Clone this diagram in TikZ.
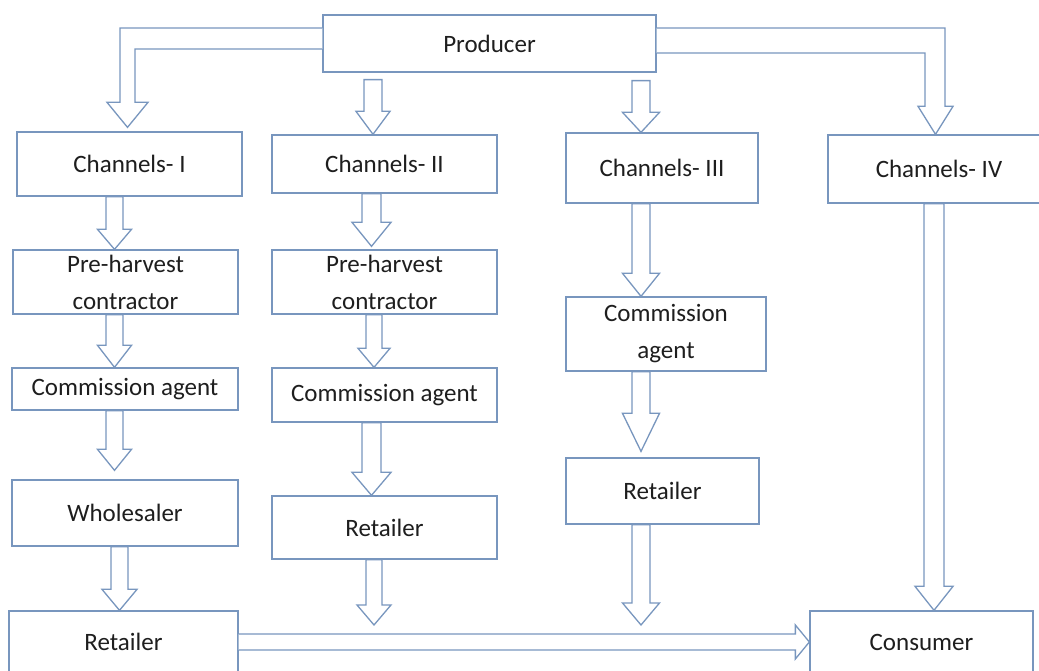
\documentclass[tikz,border=0pt]{standalone}
\usepackage{fontspec}
\setmainfont{Carlito}
\usetikzlibrary{calc}
\definecolor{boxBlue}{RGB}{120,150,190}
\definecolor{textDark}{RGB}{30,30,30}

\begin{document}
\begin{tikzpicture}
[x=1pt,y=1pt,%
  boxDecorate/.style={draw=boxBlue,line width=1.3pt,fill=white,inner sep=0pt,%
    align=center,text=textDark,font=\fontsize{25}{37}\selectfont},%
  hollowArrow/.style={draw=boxBlue,line width=1.3pt,line join=miter,fill=white}]
\useasboundingbox (0,0) rectangle (1039,671);
%% boxes
\foreach \nodename/\xpos/\ypos/\bw/\bh/\txt in {
  prod/489.5/627.5/333/57/Producer,
  chI/129.5/507/225/64/Channels- I, chII/384.5/507/225/58/Channels- II,
  chIII/662/503/192/70/Channels- III, chIV/939/502/222/68/Channels- IV,
  preI/125.5/389/225/64/Pre-harvest\\contractor,
  preII/384.5/389/225/64/Pre-harvest\\contractor,
  comI/125/282/226/42/Commission agent, comII/384.5/276/225/54/Commission agent,
  comIII/666/337/200/74/Commission\\agent,
  whole/125/158/226/66/Wholesaler, retII/384.5/143.5/225/63/Retailer,
  retIII/662.5/180/193/66/Retailer,
  retI/123.5/29/229/62/Retailer, cons/921.5/29/223/62/Consumer}
{
  \node (\nodename) at (\xpos,\ypos) [boxDecorate,minimum width=\bw,minimum height=\bh] {\txt};
}
\coordinate (endII) at (374,46);
\coordinate (endIII) at (641,46);
%% straight down arrows
\foreach \startnode/\endnode/\xpos/\sw/\hw/\hl/\sgap/\tgap in {
  chI.south/preI.north/114.5/8.5/17/20/0/0,
  preI.south/comI.north/114.5/8.5/17/22/0/0,
  comI.south/whole.north/114.5/8.5/17/21/0/9,
  whole.south/retI.north/119.5/8.5/17.5/21/0/0,
  prod.south/chII.north/373/9/17/23/7/0,
  chII.south/preII.north/371.5/9.5/19.5/24/0/3,
  preII.south/comII.north/374/8/16/19/0/0,
  comII.south/retII.north/371.5/9.5/19.5/23/0/0,
  retII.south/endII/374/8/17/20/0/0,
  prod.south/chIII.north/641/9/18.5/20/8/0,
  chIII.south/comIII.north/641/9/18.5/23/0/0,
  comIII.south/retIII.north/641/9/18.5/38/0/6,
  retIII.south/endIII/641/9/18.5/22/0/0,
  chIV.south/cons.north/934/10/19/24/0/0}
{
  \draw[hollowArrow] let \p1=(\startnode), \p2=(\endnode) in
    (\xpos-\sw,\y1-\sgap) -- (\xpos-\sw,\y2+\tgap+\hl) -- (\xpos-\hw,\y2+\tgap+\hl)
    -- (\xpos,\y2+\tgap) -- (\xpos+\hw,\y2+\tgap+\hl) -- (\xpos+\sw,\y2+\tgap+\hl)
    -- (\xpos+\sw,\y1-\sgap) -- cycle;
}
%% bent arrows from the producer
\draw[hollowArrow] let \p1=(prod.west), \p2=(chI.north) in
  (\x1,\y1+15.5) -- (120,\y1+15.5) -- (120,\y2+29) -- (107,\y2+29) -- (127.5,\y2+4)
  -- (148,\y2+29) -- (135,\y2+29) -- (135,\y1-5.5) -- (\x1,\y1-5.5);
\draw[hollowArrow] let \p1=(prod.east), \p2=(chIV.north) in
  (\x1,\y1+15.5) -- (945,\y1+15.5) -- (945,\y2+28) -- (953,\y2+28) -- (935.5,\y2)
  -- (918,\y2+28) -- (925,\y2+28) -- (925,\y1-9.5) -- (\x1,\y1-9.5);
%% retailer to consumer
\draw[hollowArrow] let \p1=(retI.east), \p2=(cons.west) in
  (\x1,\y1+8) -- (\x2-14,\y1+8) -- (\x2-14,\y1+17) -- (\x2,\y1) -- (\x2-14,\y1-17)
  -- (\x2-14,\y1-8) -- (\x1,\y1-8);
\end{tikzpicture}
\end{document}
